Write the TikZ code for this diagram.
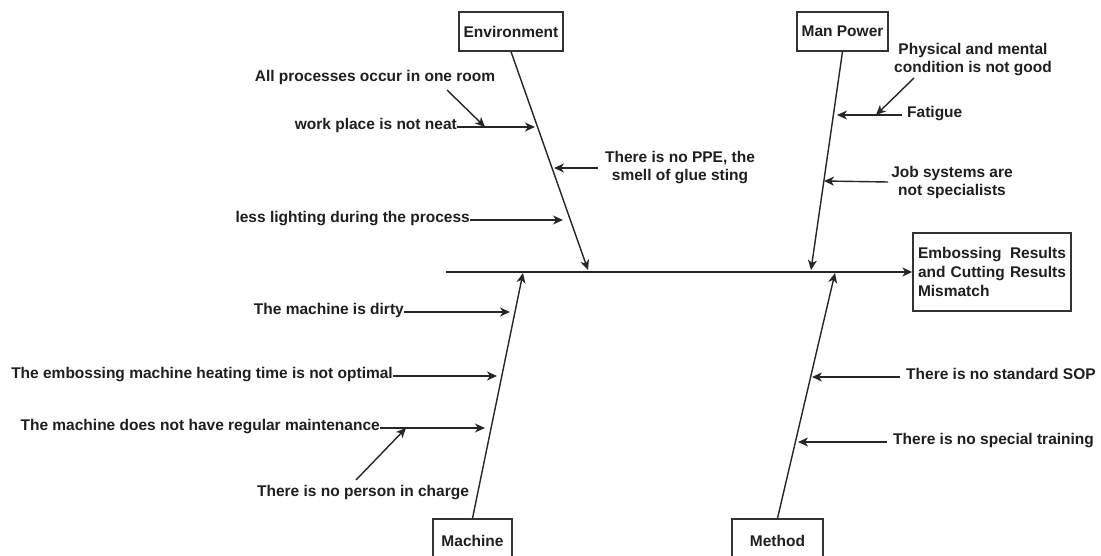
\documentclass[tikz,border=0pt]{standalone}
\usepackage{fontspec}
\setmainfont{Liberation Sans}
\usetikzlibrary{arrows.meta}
\tikzset{
  x=1pt, y=-1pt,
  lbl/.style={font=\bfseries\fontsize{15.5}{18}\selectfont, text=black!88, inner sep=0pt},
  lbltwo/.style={lbl, align=center},
  boxnode/.style={draw=black!80, line width=1.4pt, fill=white, font=\bfseries\fontsize{15.5}{18}\selectfont, text=black!88, inner sep=0pt},
  arr/.style={draw=black!85, line width=1.4pt, -{Stealth[length=10pt,width=9pt,inset=3pt]}},
}
\begin{document}
\begin{tikzpicture}
\useasboundingbox (0,0) rectangle (1101,556);
\clip (0,0) rectangle (1101,556);
\fill[white] (0,0) rectangle (1101,556);

% category boxes
\node[boxnode, minimum width=104pt, minimum height=39pt] (env) at (511,31.5) {Environment};
\node[boxnode, minimum width=91pt, minimum height=39pt] (man) at (842.5,31.5) {Man Power};
\node[boxnode, minimum width=79pt, minimum height=46pt, text depth=0pt] (mach) at (472.5,542) {\raisebox{3pt}{Machine}};
\node[boxnode, minimum width=91pt, minimum height=46pt, text depth=0pt] (meth) at (777.5,542) {\raisebox{3pt}{Method}};

% effect box
\node[boxnode, minimum width=158pt, minimum height=78pt, align=left, font=\bfseries\fontsize{15.5}{19}\selectfont] (eff) at (992,272)
  {\hbox to 148pt{Embossing\hfill Results}\\\hbox to 148pt{and\hfill Cutting\hfill Results}\\\hbox to 148pt{Mismatch\hfill}};

% spine
\coordinate (spineL) at (446,272);
\draw[arr] (spineL) -- (eff.west);

% bone tips on spine
\coordinate (envT) at (588,270);
\coordinate (manT) at (811,270);
\coordinate (machT) at (523,273);
\coordinate (methT) at (835,273);
\draw[arr] (env.south) -- (envT);
\draw[arr] (man.south) -- (manT);
\draw[arr] (mach.north) -- (machT);
\draw[arr] (meth.north) -- (methT);

% Environment causes
\node[lbl] (allproc) at (375,77) {All processes occur in one room};
\node[lbl, anchor=mid east] (work) at (457,127) {work place is not neat};
\node[lbltwo] (ppe) at (680,168) {There is no PPE, the\\smell of glue sting};
\node[lbl, anchor=mid east] (light) at (470,220) {less lighting during the process};
\coordinate (workT) at (535,127);
\coordinate (ppeT) at (554,168);
\coordinate (lightT) at (563,220);
\coordinate (allprocS) at (447,90);
\coordinate (workJ) at (485,127);
\draw[arr] (work.mid east) -- (workT);
\draw[arr] ([xshift=-7pt]ppe.west) -- (ppeT);
\draw[arr] (light.mid east) -- (lightT);
\draw[arr] (allprocS) -- (workJ);

% Man Power causes
\node[lbltwo] (phys) at (973,60) {Physical and mental\\condition is not good};
\node[lbl, anchor=mid west] (fat) at (907,115) {Fatigue};
\node[lbltwo] (job) at (952,182) {Job systems are\\not specialists};
\coordinate (fatT) at (837,115);
\coordinate (jobT) at (824,181);
\coordinate (physS) at (914,78);
\coordinate (fatJ) at (876,115);
\draw[arr] ([xshift=-5pt]fat.mid west) -- (fatT);
\draw[arr] ([xshift=-3pt]job.west) -- (jobT);
\draw[arr] (physS) -- (fatJ);

% Machine causes
\node[lbl, anchor=mid east] (dirty) at (404,312) {The machine is dirty};
\node[lbl, anchor=mid east] (heat) at (393,376) {The embossing machine heating time is not optimal};
\node[lbl, anchor=mid east] (maint) at (380,428) {The machine does not have regular maintenance};
\node[lbl] (person) at (363,493) {There is no person in charge};
\coordinate (dirtyT) at (510,312);
\coordinate (heatT) at (497,376);
\coordinate (maintT) at (485,428);
\coordinate (personS) at (356,480);
\coordinate (maintJ) at (406,428);
\draw[arr] (dirty.mid east) -- (dirtyT);
\draw[arr] (heat.mid east) -- (heatT);
\draw[arr] (maint.mid east) -- (maintT);
\draw[arr] (personS) -- (maintJ);

% Method causes
\node[lbl, anchor=mid west] (sop) at (906,377) {There is no standard SOP};
\node[lbl, anchor=mid west] (train) at (893,442) {There is no special training};
\coordinate (sopT) at (812,377);
\coordinate (trainT) at (798,442);
\draw[arr] ([xshift=-6pt]sop.mid west) -- (sopT);
\draw[arr] ([xshift=-6pt]train.mid west) -- (trainT);
\end{tikzpicture}
\end{document}
